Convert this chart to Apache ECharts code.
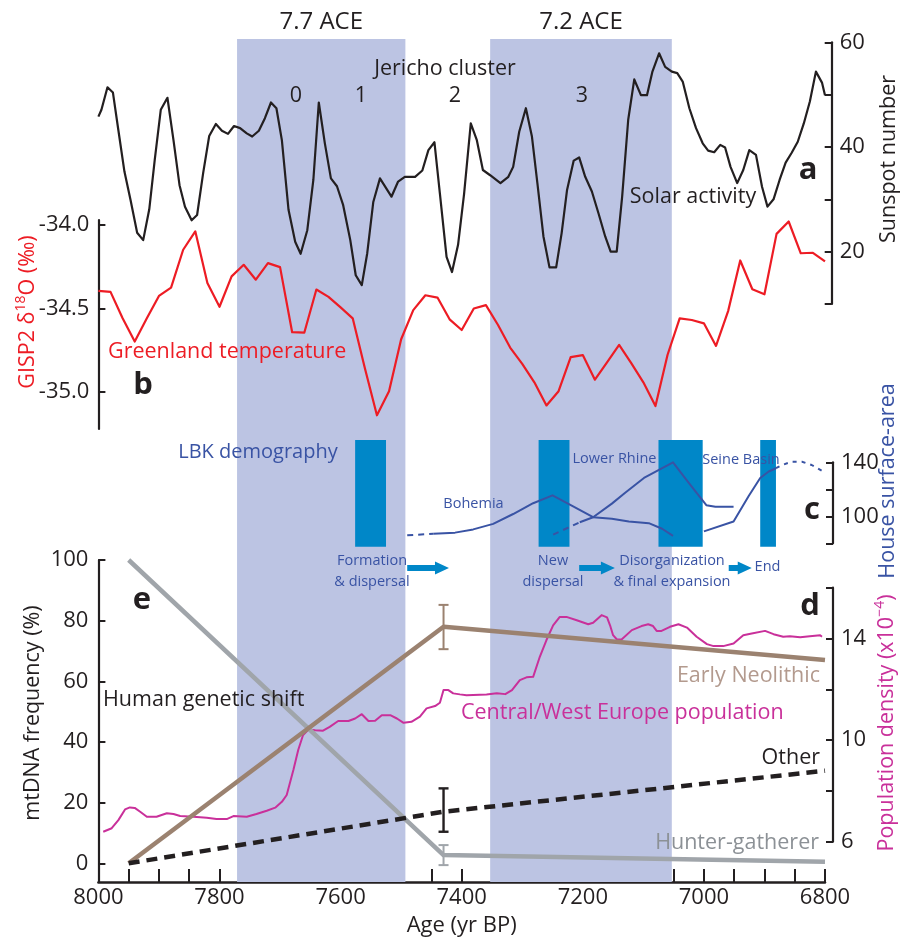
<!DOCTYPE html>
<html>
<head>
<meta charset="utf-8">
<script src="https://cdn.jsdelivr.net/npm/echarts@6/dist/echarts.min.js"></script>
<style>
  html, body { margin: 0; padding: 0; background: #ffffff; }
  #chart { width: 912px; height: 941px; }
</style>
</head>
<body>
<div id="chart"></div>
<script>
// ---------------- data ----------------
// (a) solar activity, sunspot number
const solarYears = [8000,7995,7985,7976,7967,7957,7947,7936,7926,7916,7907,7897,7886,7876,7866,7857,7846,7837,7827,7817,
  7806,7796,7786,7776,7766,7755,7746,7735,7725,7715,7706,7697,7686,7675,7666,7655,7645,7636,7626,7616,
  7606,7596,7584,7575,7565,7556,7546,7535,7516,7505,7494,7477,7465,7455,7445,7436,7425,7416,7406,7396,
  7385,7375,7365,7353,7336,7323,7315,7305,7294,7284,7275,7265,7255,7244,7235,7226,7215,7206,7196,7185,
  7174,7163,7154,7144,7135,7125,7115,7104,7094,7085,7074,7064,7053,7044,7035,7024,7013,7002,6993,6983,
  6973,6965,6956,6945,6935,6925,6914,6904,6895,6885,6875,6865,6855,6845,6835,6825,6815,6805,6800];
const solarSunspots = [45.8,47.1,51.4,50.4,43.2,35.3,29.9,23.6,22.2,28.1,37.5,47.1,49.4,41.3,32.7,28.6,26.0,27.0,35.0,42.1,
  44.4,43.1,42.5,44.0,43.6,42.6,42.0,43.1,45.5,48.5,47.4,41.3,28.0,21.9,19.6,24.1,33.7,48.5,40.7,34.0,
  32.5,29.0,22.2,15.5,13.6,19.7,29.5,34.0,30.5,33.4,34.3,34.3,35.5,39.4,40.9,31.1,19.0,16.1,21.3,31.1,
  44.5,41.3,35.6,34.6,33.1,34.3,36.2,42.9,47.4,42.0,33.1,22.9,17.0,17.0,23.5,31.8,37.4,38.0,34.3,31.5,
  27.3,22.9,20.0,20.0,30.5,45.2,52.9,49.9,49.9,54.4,57.9,55.3,54.4,54.1,52.5,47.4,43.6,40.7,39.3,39.0,
  40.4,39.9,36.2,33.1,35.6,39.4,38.5,32.4,28.6,30.0,33.7,37.0,38.9,41.0,44.5,48.7,54.4,52.3,49.9];

// (b) Greenland temperature, GISP2 delta-18O (permil)
const gispYears = [8000,7980,7960,7940,7920,7900,7880,7860,7840,7820,7800,7780,7760,7740,7720,7700,7680,7660,7640,7620,
  7600,7580,7560,7540,7520,7500,7480,7460,7440,7420,7400,7380,7360,7340,7320,7300,7280,7260,7240,7220,
  7200,7180,7160,7140,7120,7100,7080,7060,7040,7020,7000,6980,6960,6940,6920,6900,6880,6860,6840,6820,6800];
const gispDelta18O = [-34.394,-34.400,-34.558,-34.697,-34.558,-34.424,-34.374,-34.148,-34.038,-34.347,
  -34.489,-34.307,-34.238,-34.327,-34.228,-34.252,-34.641,-34.644,-34.386,-34.430,
  -34.493,-34.558,-34.855,-35.138,-34.994,-34.683,-34.509,-34.420,-34.434,-34.564,
  -34.628,-34.499,-34.479,-34.598,-34.733,-34.831,-34.941,-35.079,-34.994,-34.790,
  -34.778,-34.925,-34.822,-34.717,-34.826,-34.941,-35.083,-34.776,-34.558,-34.568,
  -34.588,-34.723,-34.515,-34.212,-34.384,-34.414,-34.053,-33.979,-34.169,-34.166,-34.218];

// (c) LBK demography: house surface-area by region, [year, area]
const bohemiaProjected = [[7490,85.9],[7447,87.1]];
const bohemiaArea = [[7447,87.1],[7411,87.9],[7381,90.3],[7348,94.4],[7315,101.7],[7282,109.7],[7250,115.5],
  [7216,107.3],[7183,99.3],[7152,98.2],[7124,96.1],[7091,94.9],[7069,90.8],[7051,85.5]];
const lowerRhineProjected = [[7249,86.4],[7205,95.6]];
const lowerRhineArea = [[7205,95.6],[7183,99.3],[7152,109.4],[7130,117.5],[7099,128.4],[7051,140.0],
  [7025,124.7],[6996,108.2],[6981,107.0],[6951,107.0]];
const seineArea = [[7000,88.8],[6951,96.1],[6926,115.0],[6907,128.4],[6893,133.2],[6881,135.6]];
const seineProjected = [[6881,135.6],[6871,138.0],[6855,140.4],[6838,140.4],[6822,138.0],[6800,132.4]];
// LBK phases: [start, end] in yr BP
const lbkPhases = [[7576,7525],[7273,7222],[7075,7002],[6907,6881]];
const lbkPhaseNames = ['Formation\n& dispersal', 'New\ndispersal', 'Disorganization\n& final expansion', 'End'];

// Rapid climate change events
const aceEvents = [[7771,7493],[7353,7053]];
const aceNames = ['7.7 ACE', '7.2 ACE'];

// (d) Central/West Europe population density (x10^-4)
const popYears = [7992,7978,7967,7956,7948,7940,7931,7920,7904,7887,7876,7865,7843,7821,7805,7788,7777,7755,7739,7722,
  7708,7697,7689,7678,7670,7662,7653,7642,7629,7618,7604,7587,7576,7565,7554,7543,7532,7518,7507,7496,
  7483,7469,7458,7444,7436,7430,7422,7414,7403,7392,7359,7342,7328,7317,7304,7293,7282,7271,7260,7249,
  7238,7227,7210,7191,7183,7169,7160,7155,7150,7144,7136,7119,7103,7092,7084,7078,7070,7056,7042,7028,
  7012,6995,6984,6968,6951,6935,6921,6899,6885,6869,6858,6841,6825,6808,6805];
const popDensity = [6.39,6.53,6.85,7.27,7.35,7.33,7.18,6.98,6.98,7.12,7.09,7.01,6.98,6.94,6.89,6.89,7.01,6.98,7.09,7.22,
  7.34,7.57,7.84,8.82,9.61,10.20,10.42,10.39,10.37,10.52,10.75,10.75,10.85,11.02,10.75,10.76,10.98,10.98,10.85,10.68,
  10.72,10.92,11.25,11.34,11.47,11.97,11.97,11.84,11.80,11.77,11.80,11.84,11.81,11.97,12.36,12.47,12.49,13.28,13.94,14.52,
  14.85,14.85,14.72,14.56,14.62,14.92,14.83,14.52,14.13,13.97,13.96,14.33,14.49,14.56,14.49,14.30,14.30,14.46,14.56,14.43,
  14.07,13.78,13.70,13.70,13.80,14.13,14.20,14.30,14.17,14.07,14.09,14.05,14.09,14.13,14.07];

// (e) Human genetic shift, mtDNA frequency (%)
const geneticYears = [7950, 7430, 6800];
const hunterGatherer = [100, 2.7, 0.5];
const earlyNeolithic = [0, 78, 67];
const otherLineages = [0, 17, 30.5];
// error ranges at the sampled age: [year, low, high]
const hunterGathererError = [[7430, -0.6, 6.0]];
const earlyNeolithicError = [[7430, 70.6, 85.2]];
const otherError = [[7430, 10.4, 24.7]];

// ---------------- style ----------------
const FONT = '"Open Sans", "Noto Sans", sans-serif';
const INK = '#231f20';
const RED = '#ed1c24';
const MAGENTA = '#c9309a';
const BLUE = '#3953a4';
const BAR_BLUE = '#0087c8';
const BAND = '#bcc4e3';
const BROWN = '#9b8270';
const BROWN_TEXT = '#b39a8e';
const GREY = '#a0a5aa';
const GREY_TEXT = '#8c9196';

const zip = (xs, ys) => xs.map((x, i) => [x, ys[i]]);

const chart = echarts.init(document.getElementById('chart'), null, { renderer: 'canvas' });

const gridBoxes = [
  { top: 39, height: 843 },     // 0 climate-event bands
  { top: 42.3, height: 261.7 }, // 1 solar activity
  { top: 220, height: 209 },    // 2 GISP2
  { top: 440, height: 106.7 },  // 3 LBK phases
  { top: 462.3, height: 81 },   // 4 house surface-area
  { top: 560, height: 322 },    // 5 mtDNA frequency
  { top: 587.7, height: 254 }   // 6 population density
];
const grids = gridBoxes.map(g => Object.assign({ left: 98.4, right: 87, containLabel: false, outerBoundsMode: 'none' }, g));

const xAxes = gridBoxes.map((g, i) => ({
  type: 'value', gridIndex: i, min: 6800, max: 8000, inverse: true,
  show: i === 5,
  interval: 50,
  axisLine: { show: true, onZero: false, lineStyle: { color: INK, width: 2.5 } },
  axisTick: { show: true, inside: true, length: 13, lineStyle: { color: INK, width: 2 } },
  axisLabel: { show: true, margin: 5, fontSize: 22, color: INK, fontFamily: FONT,
    formatter: v => (v % 200 === 0 ? String(v) : '') },
  splitLine: { show: false },
  name: i === 5 ? 'Age (yr BP)' : '',
  nameLocation: 'middle', nameGap: 33,
  nameTextStyle: { fontSize: 22, color: INK, fontFamily: FONT }
}));

function visibleY(gridIndex, opt) {
  return Object.assign({
    type: 'value', gridIndex,
    axisLine: { show: true, onZero: false, lineStyle: { color: INK, width: 2.2 } },
    axisTick: { show: true, inside: true, length: 7, lineStyle: { color: INK, width: 2 } },
    axisLabel: { fontSize: 22, color: INK, fontFamily: FONT },
    splitLine: { show: false }
  }, opt);
}
function hiddenY(gridIndex) {
  return { type: 'value', gridIndex, min: 0, max: 1, show: false, splitLine: { show: false } };
}

const yAxes = [
  hiddenY(0),
  visibleY(1, { position: 'right', offset: 6.7, min: 10, max: 60, interval: 10,
    axisLabel: { customValues: [20, 40, 60], margin: 8, fontSize: 22, color: INK, fontFamily: FONT } }),
  visibleY(2, { position: 'left', min: -35.22, max: -33.97,
    axisTick: { show: true, inside: true, length: 7, customValues: [-35, -34.5, -34], lineStyle: { color: INK, width: 2 } },
    axisLabel: { customValues: [-35, -34.5, -34], margin: 9, fontSize: 22, color: INK, fontFamily: FONT,
      formatter: v => v.toFixed(1) } }),
  hiddenY(3),
  visibleY(4, { position: 'right', offset: 8, min: 80, max: 140, interval: 20,
    axisLabel: { customValues: [100, 140], margin: 8, fontSize: 22, color: INK, fontFamily: FONT } }),
  visibleY(5, { position: 'left', min: -6.17, max: 100,
    axisTick: { show: true, inside: true, length: 7, customValues: [0, 20, 40, 60, 80, 100], lineStyle: { color: INK, width: 2 } },
    axisLabel: { customValues: [0, 20, 40, 60, 80, 100], margin: 10, fontSize: 22, color: INK, fontFamily: FONT } }),
  visibleY(6, { position: 'right', offset: 8, min: 6, max: 16, interval: 2,
    axisLabel: { customValues: [6, 10, 14], margin: 8, fontSize: 22, color: INK, fontFamily: FONT } })
];

function line(axis, data, color, width, extra) {
  return Object.assign({
    type: 'line', xAxisIndex: axis, yAxisIndex: axis, data,
    showSymbol: false, symbol: 'none', clip: false, silent: true,
    lineStyle: { color, width, cap: 'butt', join: 'round' }
  }, extra || {});
}

function errorBar(axis, data, color, width) {
  return {
    type: 'custom', xAxisIndex: axis, yAxisIndex: axis, data, silent: true, clip: false, z: 5,
    renderItem: (params, api) => {
      const lo = api.coord([api.value(0), api.value(1)]);
      const hi = api.coord([api.value(0), api.value(2)]);
      const half = 5;
      const st = { stroke: color, lineWidth: width };
      return { type: 'group', children: [
        { type: 'line', shape: { x1: lo[0], y1: lo[1], x2: hi[0], y2: hi[1] }, style: st },
        { type: 'line', shape: { x1: lo[0] - half, y1: lo[1], x2: lo[0] + half, y2: lo[1] }, style: st },
        { type: 'line', shape: { x1: hi[0] - half, y1: hi[1], x2: hi[0] + half, y2: hi[1] }, style: st }
      ] };
    }
  };
}

const series = [
  // climate-event bands across all panels
  {
    type: 'line', xAxisIndex: 0, yAxisIndex: 0, data: [[8000, 0]], showSymbol: false, silent: true, z: 0,
    lineStyle: { opacity: 0 },
    markArea: {
      silent: true,
      itemStyle: { color: BAND },
      label: { show: true, position: 'top', distance: 5, fontSize: 24, color: INK, fontFamily: FONT },
      data: aceEvents.map((e, i) => [{ name: aceNames[i], xAxis: e[0] }, { xAxis: e[1] }])
    }
  },
  // LBK phase bars
  {
    type: 'line', xAxisIndex: 3, yAxisIndex: 3, data: [[8000, 0]], showSymbol: false, silent: true, z: 1,
    lineStyle: { opacity: 0 },
    markArea: {
      silent: true,
      itemStyle: { color: BAR_BLUE },
      label: { show: false },
      data: lbkPhases.map(p => [{ xAxis: p[0] }, { xAxis: p[1] }])
    }
  },
  line(1, zip(solarYears, solarSunspots), INK, 2.2),
  line(2, zip(gispYears, gispDelta18O), RED, 2.2),
  line(4, bohemiaProjected, BLUE, 2, { lineStyle: { color: BLUE, width: 2, type: [6, 5] } }),
  line(4, bohemiaArea, BLUE, 2),
  line(4, lowerRhineProjected, BLUE, 2, { lineStyle: { color: BLUE, width: 2, type: [6, 5] } }),
  line(4, lowerRhineArea, BLUE, 2),
  line(4, seineArea, BLUE, 2),
  line(4, seineProjected, BLUE, 2, { lineStyle: { color: BLUE, width: 2, type: [4, 5] } }),
  line(6, zip(popYears, popDensity), MAGENTA, 2),
  line(5, zip(geneticYears, hunterGatherer), GREY, 4.5),
  line(5, zip(geneticYears, earlyNeolithic), BROWN, 4.5),
  line(5, zip(geneticYears, otherLineages), INK, 4.5, { lineStyle: { color: INK, width: 4.5, type: [11, 7], cap: 'butt' } }),
  errorBar(5, hunterGathererError, GREY, 2),
  errorBar(5, earlyNeolithicError, BROWN, 2),
  errorBar(5, otherError, INK, 2.4)
];

function txt(x, y, text, o) {
  o = o || {};
  const el = {
    type: 'text', x, y, silent: true, z: 100,
    style: {
      text, fill: o.color || INK, fontFamily: FONT, fontSize: o.size || 21.5,
      fontWeight: o.weight || 'normal', align: o.align || 'center', verticalAlign: 'middle',
      lineHeight: o.lineHeight || undefined
    }
  };
  if (o.rotate) el.rotation = Math.PI / 2;
  if (o.rich) el.style.rich = o.rich;
  return el;
}

const supRich = (color) => ({
  a: { fontSize: 21.5, fontFamily: FONT, fill: color, color, lineHeight: 28 },
  s: { fontSize: 14, fontFamily: FONT, fill: color, color, verticalAlign: 'top', lineHeight: 14 }
});

const texts = [
  txt(445, 69, 'Jericho cluster'),
  txt(296, 96, '0'), txt(361, 96, '1'), txt(455, 96, '2'), txt(582, 96, '3'),
  txt(693, 197, 'Solar activity'),
  txt(808, 170, 'a', { size: 31, weight: 'bold' }),
  txt(889, 159, 'Sunspot number', { rotate: true }),
  txt(108, 352, 'Greenland temperature', { color: RED, align: 'left' }),
  txt(143, 385, 'b', { size: 31, weight: 'bold' }),
  txt(28, 312, '{a|GISP2 δ}{s|18}{a|O (‰)}', { rotate: true, color: RED, rich: supRich(RED) }),
  txt(258, 452, 'LBK demography', { color: BLUE, size: 20 }),
  txt(473.5, 504, 'Bohemia', { color: BLUE, size: 14.5 }),
  txt(614.5, 459, 'Lower Rhine', { color: BLUE, size: 14.5 }),
  txt(741, 460, 'Seine Basin', { color: BLUE, size: 14.5 }),
  txt(372, 571.5, lbkPhaseNames[0], { color: BLUE, size: 14.5, lineHeight: 20.5 }),
  txt(553, 571.5, lbkPhaseNames[1], { color: BLUE, size: 14.5, lineHeight: 20.5 }),
  txt(672, 571.5, lbkPhaseNames[2], { color: BLUE, size: 14.5, lineHeight: 20.5 }),
  txt(767.5, 567, lbkPhaseNames[3], { color: BLUE, size: 14.5 }),
  txt(812, 510, 'c', { size: 31, weight: 'bold' }),
  txt(888, 481, 'House surface-area', { rotate: true, color: BLUE }),
  txt(810, 606, 'd', { size: 31, weight: 'bold' }),
  txt(142, 600, 'e', { size: 31, weight: 'bold' }),
  txt(103, 700, 'Human genetic shift', { align: 'left' }),
  txt(461, 713, 'Central/West Europe population', { color: MAGENTA, align: 'left' }),
  txt(820, 676, 'Early Neolithic', { color: BROWN_TEXT, align: 'right' }),
  txt(820, 758, 'Other', { align: 'right' }),
  txt(819, 843, 'Hunter-gatherer', { color: GREY_TEXT, align: 'right' }),
  txt(33, 713, 'mtDNA frequency (%)', { rotate: true }),
  txt(887, 723, '{a|Population density (x10}{s|−4}{a|)}', { rotate: true, color: MAGENTA, rich: supRich(MAGENTA) })
];

chart.setOption({
  animation: false,
  backgroundColor: '#ffffff',
  textStyle: { fontFamily: FONT },
  grid: grids,
  xAxis: xAxes,
  yAxis: yAxes,
  series,
  graphic: texts
});

// phase-transition arrows, placed on the shared age scale: [from, tip]
const phaseArrows = [[7490, 7421], [7206, 7147], [6959, 6921]];
const arrowY = 568;
const arrows = phaseArrows.map(a => {
  const x0 = chart.convertToPixel({ xAxisIndex: 3 }, a[0]);
  const xt = chart.convertToPixel({ xAxisIndex: 3 }, a[1]);
  const hl = 14, hh = 6.5, sh = 3;
  return {
    type: 'polygon', silent: true, z: 100,
    shape: { points: [[x0, arrowY - sh], [xt - hl, arrowY - sh], [xt - hl, arrowY - hh], [xt, arrowY],
      [xt - hl, arrowY + hh], [xt - hl, arrowY + sh], [x0, arrowY + sh]] },
    style: { fill: BAR_BLUE }
  };
});
chart.setOption({ graphic: texts.concat(arrows) });
</script>
</body>
</html>
